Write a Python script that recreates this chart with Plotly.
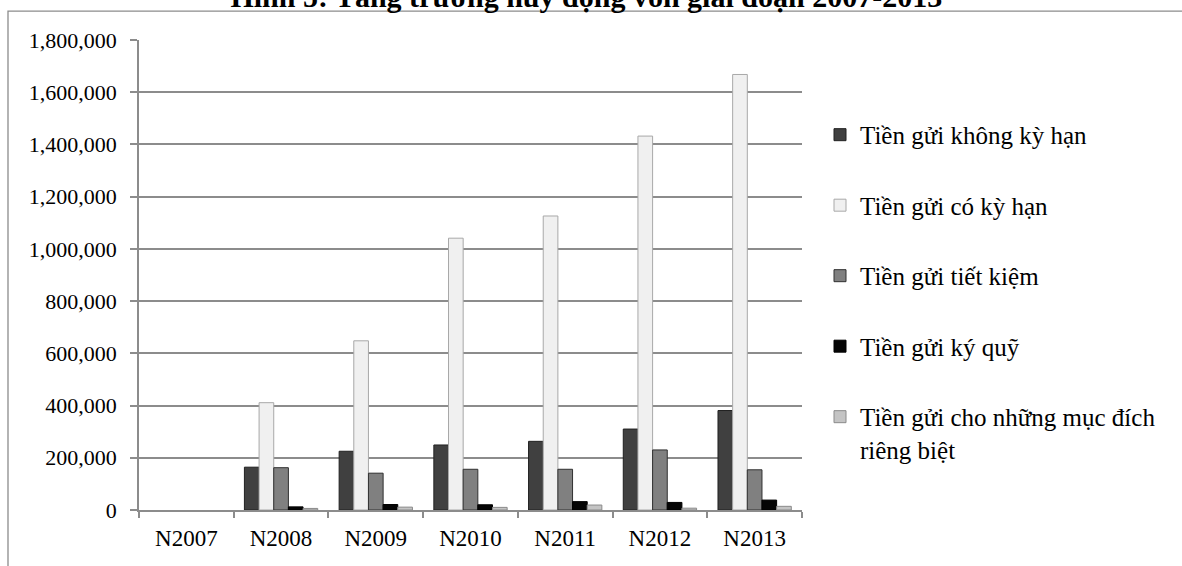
import plotly.graph_objects as go

# Deposit mobilisation by deposit type, 2007-2013 (no figures reported for 2007)
years = ["N2007", "N2008", "N2009", "N2010", "N2011", "N2012", "N2013"]

demand_deposits = [None, 164000, 225000, 249000, 263000, 310000, 381000]
term_deposits = [None, 411000, 648000, 1041000, 1126000, 1432000, 1668000]
savings_deposits = [None, 162000, 141000, 156000, 156000, 230000, 154000]
margin_deposits = [None, 12000, 21000, 20000, 32000, 29000, 38000]
special_purpose_deposits = [None, 6000, 11000, 10000, 19000, 7000, 14000]

series_names = [
    "Tiền gửi không kỳ hạn",
    "Tiền gửi có kỳ hạn",
    "Tiền gửi tiết kiệm",
    "Tiền gửi ký quỹ",
    "Tiền gửi cho những mục đích<br>riêng biệt",
]
series_values = [demand_deposits, term_deposits, savings_deposits,
                 margin_deposits, special_purpose_deposits]
fill_colors = ["#404040", "#f0f0f0", "#808080", "#050505", "#c4c4c4"]
edge_colors = ["#202020", "#a8a8a8", "#303030", "#000000", "#8a8a8a"]

y_ticks = list(range(0, 1800001, 200000))
y_tick_text = [f"{v:,}" for v in y_ticks]

FONT = "Liberation Serif, Times New Roman, serif"
GRID = "#8c8c8c"

fig = go.Figure()
for i, (name, vals) in enumerate(zip(series_names, series_values)):
    fig.add_trace(go.Bar(
        x=years, y=vals, name=name,
        marker=dict(color=fill_colors[i],
                    line=dict(color=edge_colors[i], width=1)),
        legendgroup=f"g{i}",
    ))

L, R, T, B = 139, 1182 - 802, 40, 566 - 510.5
plot_w = 1182 - L - R
plot_h = 566 - T - B

fig.update_layout(
    width=1182, height=566,
    margin=dict(l=L, r=R, t=T, b=B, autoexpand=False),
    paper_bgcolor="white", plot_bgcolor="white",
    font=dict(family=FONT, size=22, color="#000000"),
    barmode="group", bargap=0.226, bargroupgap=0,
    showlegend=True,
    legend=dict(
        x=(820 - L) / plot_w, xanchor="left",
        y=(510.5 - 112) / plot_h, yanchor="top",
        font=dict(family=FONT, size=25, color="#000000"),
        tracegroupgap=35, valign="top",
        bgcolor="rgba(0,0,0,0)",
    ),
    title=dict(
        text="<b>Hình 5: Tăng trưởng huy động vốn giai đoạn 2007-2013</b>",
        x=0.496, xanchor="center", xref="container",
        y=1 - 7 / 566, yanchor="bottom", yref="container",
        font=dict(family=FONT, size=30, color="#000000"),
    ),
    xaxis=dict(
        showline=True, linecolor=GRID, linewidth=1.5,
        ticks="outside", tickson="boundaries", ticklen=6, tickcolor=GRID,
        tickwidth=1.5, ticklabelstandoff=7,
        tickfont=dict(family=FONT, size=23),
        showgrid=False, zeroline=False,
    ),
    yaxis=dict(
        range=[0, 1800000], tickvals=y_ticks, ticktext=y_tick_text,
        showline=True, linecolor=GRID, linewidth=1.5,
        ticks="outside", ticklen=7, tickcolor=GRID, tickwidth=1.5,
        ticklabelstandoff=9,
        tickfont=dict(family=FONT, size=22),
        showgrid=True, gridcolor=GRID, gridwidth=1.5,
        zeroline=False,
    ),
    shapes=[dict(
        type="rect", xref="paper", yref="paper",
        x0=(8 - L) / plot_w, x1=(1300 - L) / plot_w,
        y0=(510.5 - 700) / plot_h, y1=(510.5 - 11) / plot_h,
        line=dict(color="#8c8c8c", width=1.3), fillcolor="rgba(0,0,0,0)",
        layer="below",
    )],
)

fig.write_html("out.html")
